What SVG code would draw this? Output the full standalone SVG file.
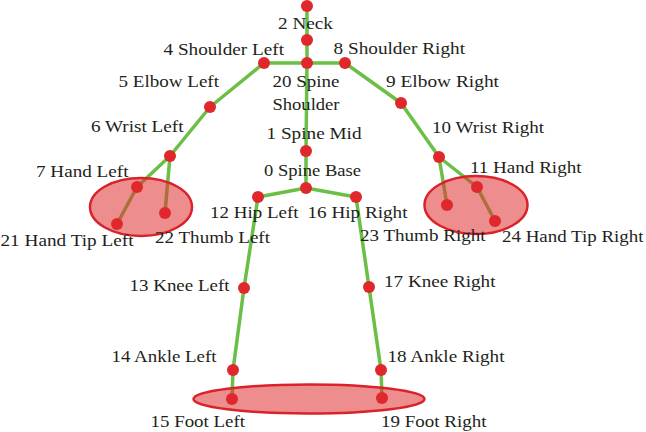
<svg xmlns="http://www.w3.org/2000/svg" width="646" height="432" viewBox="0 0 646 432">
<style>
.bone{stroke:#6abf45;stroke-width:3.5;stroke-linecap:round;fill:none}
.j{fill:#e0282c}
.zone{fill:#e03030;fill-opacity:0.55;stroke:#d9222a;stroke-width:2.5}
</style>
<rect width="646" height="432" fill="#ffffff"/>
<g id="connectors">
<line class="bone" x1="307" y1="6" x2="307" y2="40"/>
<line class="bone" x1="307" y1="40" x2="307" y2="63"/>
<line class="bone" x1="307" y1="63" x2="264" y2="63"/>
<line class="bone" x1="307" y1="63" x2="345" y2="63"/>
<line class="bone" x1="264" y1="63" x2="210" y2="107"/>
<line class="bone" x1="210" y1="107" x2="170" y2="156"/>
<line class="bone" x1="170" y1="156" x2="137" y2="187"/>
<line class="bone" x1="137" y1="187" x2="117" y2="224"/>
<line class="bone" x1="170" y1="156" x2="165" y2="213"/>
<line class="bone" x1="345" y1="63" x2="401" y2="103"/>
<line class="bone" x1="401" y1="103" x2="439" y2="157"/>
<line class="bone" x1="439" y1="157" x2="477" y2="187"/>
<line class="bone" x1="477" y1="187" x2="495" y2="221"/>
<line class="bone" x1="439" y1="157" x2="447" y2="205"/>
<line class="bone" x1="307" y1="63" x2="306" y2="151"/>
<line class="bone" x1="306" y1="151" x2="306" y2="188"/>
<line class="bone" x1="306" y1="188" x2="258" y2="197"/>
<line class="bone" x1="306" y1="188" x2="356" y2="197"/>
<line class="bone" x1="258" y1="197" x2="244" y2="288"/>
<line class="bone" x1="244" y1="288" x2="233" y2="370"/>
<line class="bone" x1="233" y1="370" x2="232" y2="399"/>
<line class="bone" x1="356" y1="197" x2="369" y2="287"/>
<line class="bone" x1="369" y1="287" x2="381" y2="370"/>
<line class="bone" x1="381" y1="370" x2="382" y2="398"/>
</g>
<g id="zones">
<ellipse class="zone" cx="141" cy="207" rx="51" ry="29"/>
<ellipse class="zone" cx="476" cy="205" rx="51.5" ry="29"/>
<ellipse class="zone" cx="309" cy="399" rx="115.5" ry="14.5"/>
</g>
<g id="nodes" font-family="Liberation Serif, Times New Roman, DejaVu Serif, serif" font-size="17.5" fill="#231f20">
<g id="j3"><circle class="j" cx="307" cy="6" r="6"/></g>
<g id="j2"><circle class="j" cx="307" cy="40" r="6"/><text x="278" y="29" textLength="55" lengthAdjust="spacingAndGlyphs">2 Neck</text></g>
<g id="j20"><circle class="j" cx="307" cy="63" r="6"/><text x="272.5" y="87" textLength="67" lengthAdjust="spacingAndGlyphs">20 Spine</text><text x="272.5" y="110" textLength="67" lengthAdjust="spacingAndGlyphs">Shoulder</text></g>
<g id="j4"><circle class="j" cx="264" cy="63" r="6"/><text x="163.5" y="55" textLength="120.5" lengthAdjust="spacingAndGlyphs">4 Shoulder Left</text></g>
<g id="j8"><circle class="j" cx="345" cy="63" r="6"/><text x="333.5" y="54" textLength="131.5" lengthAdjust="spacingAndGlyphs">8 Shoulder Right</text></g>
<g id="j5"><circle class="j" cx="210" cy="107" r="6"/><text x="118.5" y="87" textLength="100.5" lengthAdjust="spacingAndGlyphs">5 Elbow Left</text></g>
<g id="j9"><circle class="j" cx="401" cy="103" r="6"/><text x="386" y="86.5" textLength="113" lengthAdjust="spacingAndGlyphs">9 Elbow Right</text></g>
<g id="j6"><circle class="j" cx="170" cy="156" r="6"/><text x="91" y="131.5" textLength="92.5" lengthAdjust="spacingAndGlyphs">6 Wrist Left</text></g>
<g id="j10"><circle class="j" cx="439" cy="157" r="6"/><text x="432" y="133" textLength="112" lengthAdjust="spacingAndGlyphs">10 Wrist Right</text></g>
<g id="j1"><circle class="j" cx="306" cy="151" r="6"/><text x="266.5" y="139" textLength="95" lengthAdjust="spacingAndGlyphs">1 Spine Mid</text></g>
<g id="j7"><circle class="j" cx="137" cy="187" r="6"/><text x="36" y="177" textLength="92.5" lengthAdjust="spacingAndGlyphs">7 Hand Left</text></g>
<g id="j11"><circle class="j" cx="477" cy="187" r="6"/><text x="470" y="173" textLength="111.5" lengthAdjust="spacingAndGlyphs">11 Hand Right</text></g>
<g id="j0"><circle class="j" cx="306" cy="188" r="6"/><text x="264" y="176" textLength="97" lengthAdjust="spacingAndGlyphs">0 Spine Base</text></g>
<g id="j12"><circle class="j" cx="258" cy="197" r="6"/><text x="210" y="218" textLength="88.5" lengthAdjust="spacingAndGlyphs">12 Hip Left</text></g>
<g id="j16"><circle class="j" cx="356" cy="197" r="6"/><text x="307.5" y="218" textLength="100" lengthAdjust="spacingAndGlyphs">16 Hip Right</text></g>
<g id="j21"><circle class="j" cx="117" cy="224" r="6"/><text x="0.5" y="246" textLength="133" lengthAdjust="spacingAndGlyphs">21 Hand Tip Left</text></g>
<g id="j22"><circle class="j" cx="165" cy="213" r="6"/><text x="155" y="243" textLength="115" lengthAdjust="spacingAndGlyphs">22 Thumb Left</text></g>
<g id="j23"><circle class="j" cx="447" cy="205" r="6"/><text x="360" y="241" textLength="125.5" lengthAdjust="spacingAndGlyphs">23 Thumb Right</text></g>
<g id="j24"><circle class="j" cx="495" cy="221" r="6"/><text x="502" y="241.5" textLength="141.5" lengthAdjust="spacingAndGlyphs">24 Hand Tip Right</text></g>
<g id="j13"><circle class="j" cx="244" cy="288" r="6"/><text x="129.5" y="291" textLength="100" lengthAdjust="spacingAndGlyphs">13 Knee Left</text></g>
<g id="j17"><circle class="j" cx="369" cy="287" r="6"/><text x="384" y="286.5" textLength="111.5" lengthAdjust="spacingAndGlyphs">17 Knee Right</text></g>
<g id="j14"><circle class="j" cx="233" cy="370" r="6"/><text x="111.5" y="362" textLength="105" lengthAdjust="spacingAndGlyphs">14 Ankle Left</text></g>
<g id="j18"><circle class="j" cx="381" cy="370" r="6"/><text x="387.5" y="362" textLength="117" lengthAdjust="spacingAndGlyphs">18 Ankle Right</text></g>
<g id="j15"><circle class="j" cx="232" cy="399" r="6"/><text x="150.5" y="427" textLength="94.5" lengthAdjust="spacingAndGlyphs">15 Foot Left</text></g>
<g id="j19"><circle class="j" cx="382" cy="398" r="6"/><text x="381" y="427" textLength="105.5" lengthAdjust="spacingAndGlyphs">19 Foot Right</text></g>
</g>
</svg>
